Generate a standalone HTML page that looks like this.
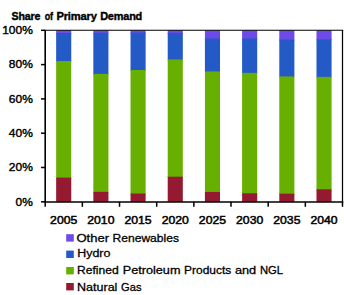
<!DOCTYPE html>
<html><head><meta charset="utf-8"><style>
html,body{margin:0;padding:0;background:#fff;width:344px;height:295px;overflow:hidden}
svg{display:block}
text{font-family:"Liberation Sans",sans-serif;fill:#000;stroke:#000;stroke-width:0.5px}
.t{font-size:11.2px;font-weight:bold;letter-spacing:-0.2px;stroke-width:0.4px}
.yl{font-size:11.6px;stroke-width:0.4px}
.xl{font-size:11.5px;stroke-width:0.5px}
.lg{font-size:11.7px;stroke-width:0.3px}
</style></head><body>
<svg width="344" height="295" viewBox="0 0 344 295">
<text x="11.60" y="19.55" textLength="28.50" lengthAdjust="spacingAndGlyphs" class="t">Share</text>
<text x="44.70" y="19.55" textLength="8.10" lengthAdjust="spacingAndGlyphs" class="t">of</text>
<text x="56.40" y="19.55" textLength="40.30" lengthAdjust="spacingAndGlyphs" class="t">Primary</text>
<text x="100.20" y="19.55" textLength="41.90" lengthAdjust="spacingAndGlyphs" class="t">Demand</text>
<rect x="56.15" y="30.30" width="15.1" height="3.80" fill="#6e4ae8"/>
<rect x="56.15" y="33.10" width="15.1" height="28.90" fill="#235ac5"/>
<rect x="56.15" y="61.00" width="15.1" height="117.60" fill="#67af00"/>
<rect x="56.15" y="177.60" width="15.1" height="24.20" fill="#941a31"/>
<text x="50.10" y="223.7" textLength="27.2" lengthAdjust="spacingAndGlyphs" class="xl">2005</text>
<rect x="93.34" y="30.30" width="15.1" height="3.50" fill="#6e4ae8"/>
<rect x="93.34" y="32.80" width="15.1" height="42.05" fill="#235ac5"/>
<rect x="93.34" y="73.85" width="15.1" height="119.00" fill="#67af00"/>
<rect x="93.34" y="191.85" width="15.1" height="9.95" fill="#941a31"/>
<text x="87.29" y="223.7" textLength="27.2" lengthAdjust="spacingAndGlyphs" class="xl">2010</text>
<rect x="130.53" y="30.30" width="15.1" height="3.35" fill="#6e4ae8"/>
<rect x="130.53" y="32.65" width="15.1" height="38.35" fill="#235ac5"/>
<rect x="130.53" y="70.00" width="15.1" height="124.55" fill="#67af00"/>
<rect x="130.53" y="193.55" width="15.1" height="8.25" fill="#941a31"/>
<text x="124.48" y="223.7" textLength="27.2" lengthAdjust="spacingAndGlyphs" class="xl">2015</text>
<rect x="167.72" y="30.30" width="15.1" height="3.60" fill="#6e4ae8"/>
<rect x="167.72" y="32.90" width="15.1" height="27.50" fill="#235ac5"/>
<rect x="167.72" y="59.40" width="15.1" height="118.30" fill="#67af00"/>
<rect x="167.72" y="176.70" width="15.1" height="25.10" fill="#941a31"/>
<text x="161.67" y="223.7" textLength="27.2" lengthAdjust="spacingAndGlyphs" class="xl">2020</text>
<rect x="204.91" y="30.30" width="15.1" height="9.20" fill="#6e4ae8"/>
<rect x="204.91" y="38.50" width="15.1" height="33.90" fill="#235ac5"/>
<rect x="204.91" y="71.40" width="15.1" height="121.55" fill="#67af00"/>
<rect x="204.91" y="191.95" width="15.1" height="9.85" fill="#941a31"/>
<text x="198.86" y="223.7" textLength="27.2" lengthAdjust="spacingAndGlyphs" class="xl">2025</text>
<rect x="242.10" y="30.30" width="15.1" height="9.20" fill="#6e4ae8"/>
<rect x="242.10" y="38.50" width="15.1" height="35.35" fill="#235ac5"/>
<rect x="242.10" y="72.85" width="15.1" height="121.45" fill="#67af00"/>
<rect x="242.10" y="193.30" width="15.1" height="8.50" fill="#941a31"/>
<text x="236.05" y="223.7" textLength="27.2" lengthAdjust="spacingAndGlyphs" class="xl">2030</text>
<rect x="279.29" y="30.30" width="15.1" height="10.30" fill="#6e4ae8"/>
<rect x="279.29" y="39.60" width="15.1" height="37.80" fill="#235ac5"/>
<rect x="279.29" y="76.40" width="15.1" height="118.30" fill="#67af00"/>
<rect x="279.29" y="193.70" width="15.1" height="8.10" fill="#941a31"/>
<text x="273.24" y="223.7" textLength="27.2" lengthAdjust="spacingAndGlyphs" class="xl">2035</text>
<rect x="316.48" y="30.30" width="15.1" height="10.00" fill="#6e4ae8"/>
<rect x="316.48" y="39.30" width="15.1" height="38.55" fill="#235ac5"/>
<rect x="316.48" y="76.85" width="15.1" height="113.45" fill="#67af00"/>
<rect x="316.48" y="189.30" width="15.1" height="12.50" fill="#941a31"/>
<text x="310.43" y="223.7" textLength="27.2" lengthAdjust="spacingAndGlyphs" class="xl">2040</text>
<line x1="44.45" y1="30.2" x2="343.25" y2="30.2" stroke="#000" stroke-width="1.15"/>
<line x1="44.45" y1="201.9" x2="343.25" y2="201.9" stroke="#000" stroke-width="1.55"/>
<line x1="45.2" y1="30.3" x2="45.2" y2="202.60000000000002" stroke="#000" stroke-width="1.6"/>
<line x1="342.5" y1="30.3" x2="342.5" y2="201.8" stroke="#000" stroke-width="1.25"/>
<line x1="41" y1="201.80" x2="45.2" y2="201.80" stroke="#000" stroke-width="1.5"/>
<text x="15.60" y="205.50" textLength="17.2" lengthAdjust="spacingAndGlyphs" class="yl">0%</text>
<line x1="41" y1="167.50" x2="45.2" y2="167.50" stroke="#000" stroke-width="1.5"/>
<text x="8.80" y="171.20" textLength="24.0" lengthAdjust="spacingAndGlyphs" class="yl">20%</text>
<line x1="41" y1="133.20" x2="45.2" y2="133.20" stroke="#000" stroke-width="1.5"/>
<text x="8.80" y="136.90" textLength="24.0" lengthAdjust="spacingAndGlyphs" class="yl">40%</text>
<line x1="41" y1="98.90" x2="45.2" y2="98.90" stroke="#000" stroke-width="1.5"/>
<text x="8.80" y="102.60" textLength="24.0" lengthAdjust="spacingAndGlyphs" class="yl">60%</text>
<line x1="41" y1="64.60" x2="45.2" y2="64.60" stroke="#000" stroke-width="1.5"/>
<text x="8.80" y="68.30" textLength="24.0" lengthAdjust="spacingAndGlyphs" class="yl">80%</text>
<line x1="41" y1="30.30" x2="45.2" y2="30.30" stroke="#000" stroke-width="1.5"/>
<text x="2.20" y="34.00" textLength="30.6" lengthAdjust="spacingAndGlyphs" class="yl">100%</text>
<line x1="45.20" y1="201.8" x2="45.20" y2="206.8" stroke="#000" stroke-width="1.5"/>
<line x1="82.36" y1="201.8" x2="82.36" y2="206.8" stroke="#000" stroke-width="1.5"/>
<line x1="119.53" y1="201.8" x2="119.53" y2="206.8" stroke="#000" stroke-width="1.5"/>
<line x1="156.69" y1="201.8" x2="156.69" y2="206.8" stroke="#000" stroke-width="1.5"/>
<line x1="193.85" y1="201.8" x2="193.85" y2="206.8" stroke="#000" stroke-width="1.5"/>
<line x1="231.01" y1="201.8" x2="231.01" y2="206.8" stroke="#000" stroke-width="1.5"/>
<line x1="268.18" y1="201.8" x2="268.18" y2="206.8" stroke="#000" stroke-width="1.5"/>
<line x1="305.34" y1="201.8" x2="305.34" y2="206.8" stroke="#000" stroke-width="1.5"/>
<line x1="342.50" y1="201.8" x2="342.50" y2="206.8" stroke="#000" stroke-width="1.5"/>
<rect x="66.2" y="234.2" width="7.6" height="7.4" fill="#6e4ae8"/>
<text x="76.40" y="241.75" textLength="32.70" lengthAdjust="spacingAndGlyphs" class="lg">Other</text>
<text x="112.50" y="241.75" textLength="66.50" lengthAdjust="spacingAndGlyphs" class="lg">Renewables</text>
<rect x="66.2" y="250.6" width="7.6" height="7.4" fill="#235ac5"/>
<text x="77.20" y="257.35" textLength="33.20" lengthAdjust="spacingAndGlyphs" class="lg">Hydro</text>
<rect x="66.2" y="267.0" width="7.6" height="7.4" fill="#67af00"/>
<text x="77.00" y="273.70" textLength="41.70" lengthAdjust="spacingAndGlyphs" class="lg">Refined</text>
<text x="122.70" y="273.70" textLength="57.80" lengthAdjust="spacingAndGlyphs" class="lg">Petroleum</text>
<text x="184.10" y="273.70" textLength="47.10" lengthAdjust="spacingAndGlyphs" class="lg">Products</text>
<text x="234.90" y="273.70" textLength="21.30" lengthAdjust="spacingAndGlyphs" class="lg">and</text>
<text x="259.90" y="273.70" textLength="23.20" lengthAdjust="spacingAndGlyphs" class="lg">NGL</text>
<rect x="66.2" y="283.0" width="7.6" height="7.4" fill="#941a31"/>
<text x="77.10" y="290.65" textLength="40.30" lengthAdjust="spacingAndGlyphs" class="lg">Natural</text>
<text x="121.10" y="290.65" textLength="20.40" lengthAdjust="spacingAndGlyphs" class="lg">Gas</text>
</svg>
</body></html>
